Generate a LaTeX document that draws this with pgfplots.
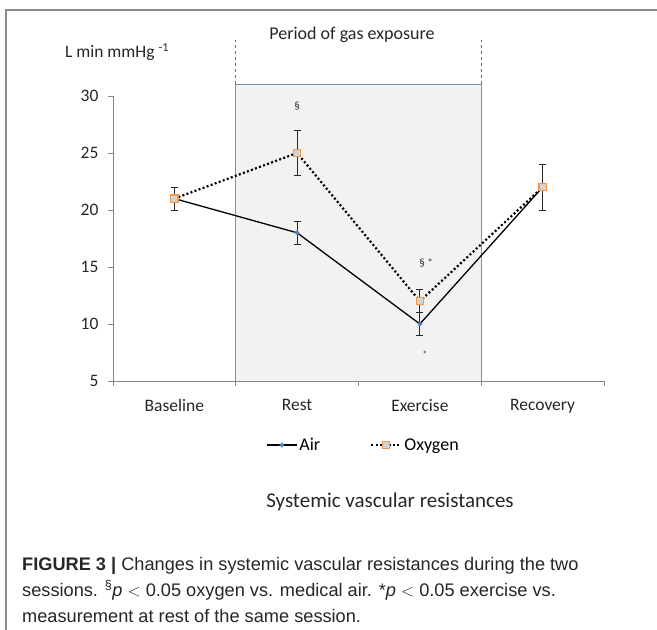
\documentclass[border=0pt]{standalone}
\usepackage{fontspec}
\setmainfont{Carlito}
\newfontfamily\capfont{Liberation Sans}
\usepackage{pgfplots}
\pgfplotsset{compat=1.18}
\definecolor{axgray}{HTML}{868686}
\definecolor{rectfill}{HTML}{F2F2F2}
\definecolor{rectedge}{HTML}{6E93C0}
\definecolor{orangemk}{HTML}{F79646}
\definecolor{grayfill}{HTML}{D4D4D4}
\definecolor{airblue}{HTML}{4F81BD}
\begin{document}
\begin{tikzpicture}[x=1pt,y=1pt]
\begin{axis}[
  name=ax,
  scale only axis, width=491pt, height=285pt,
  xmin=-0.5, xmax=3.5, ymin=5, ymax=30,
  clip=false, axis on top,
  axis x line*=bottom, axis y line*=left,
  axis line style={axgray, line width=0.8pt},
  ytick={5,10,...,30},
  xtick={0,1,2,3}, xticklabels={Baseline,Rest,Exercise,Recovery},
  minor xtick={-0.5,0.5,1.5,2.5,3.5},
  major x tick style={draw=none},
  minor x tick style={axgray, line width=0.8pt},
  y tick style={axgray, line width=0.8pt},
  tick align=outside, major tick length=5pt, minor tick length=5pt,
  /pgf/number format/assume math mode=true,
  tick label style={font=\fontsize{17.5}{20}\selectfont, text=black!85},
  xticklabel style={yshift=-10pt},
  yticklabel style={xshift=-6pt},
  legend style={draw=none, fill=none, at={(0.51,-0.2246)}, anchor=center,
    legend columns=2, font=\fontsize{18}{21}\selectfont,
    /tikz/every even column/.append style={column sep=48pt}},
  legend image code/.code={%
    \draw[mark repeat=2,mark phase=2,#1] plot coordinates {(0pt,0pt) (15pt,0pt) (30pt,0pt)};},
]
\fill[rectfill] (axis cs:0.5,5) rectangle (axis cs:2.5,31.05);
\draw[rectedge, line width=1pt] (axis cs:0.5,5) -- (axis cs:0.5,31.05) -- (axis cs:2.5,31.05) -- (axis cs:2.5,5);
\draw[black!60, dashed, line width=0.8pt] (axis cs:0.5,31.05) -- (axis cs:0.5,34.9);
\draw[black!60, dashed, line width=0.8pt] (axis cs:2.5,31.05) -- (axis cs:2.5,34.9);

\addplot[black, line width=1.3pt, mark=*, mark size=1.6pt,
  mark options={fill=airblue, draw=airblue},
  error bars/.cd, y dir=both, y explicit,
  error bar style={black!85, line width=0.9pt},
  error mark options={rotate=90, mark size=3.5pt, black!85, line width=0.9pt}]
  coordinates {(0,21) +- (0,1) (1,18) +- (0,1) (2,10) +- (0,1) (3,22) +- (0,2)};
\addlegendentry{Air}
\addplot[black, line width=2.2pt, dash pattern=on 2pt off 2.3pt, line cap=butt,
  mark=square*, mark size=3.6pt,
  mark options={solid, fill=grayfill, draw=orangemk, line width=1.1pt},
  error bars/.cd, y dir=both, y explicit,
  error bar style={black!85, solid, line width=0.9pt},
  error mark options={rotate=90, mark size=3.5pt, black!85, solid, line width=0.9pt}]
  coordinates {(0,21) +- (0,1) (1,25) +- (0,2) (2,12) +- (0,1) (3,22) +- (0,2)};
\addlegendentry{Oxygen}

\node[font=\fontsize{11}{12}\selectfont, text=black!85] at (axis cs:1,29.1) {\S};
\node[font=\fontsize{11}{12}\selectfont, text=black!85] at (axis cs:2.05,15.4) {\S\ *};
\node[font=\fontsize{9}{10}\selectfont, text=black!85] at (axis cs:2.04,7.3) {*};
\end{axis}
\begin{scope}[shift={(ax.south west)}, shift={(-113,381)}]
\draw[black!45, line width=1.2pt] (6,-630) -- (6,-10) -- (657,-10);
\node[font=\fontsize{18}{21}\selectfont, text=black!85] at (352,-35) {Period of gas exposure};
\node[font=\fontsize{17.5}{20}\selectfont, text=black!85] at (117,-52) {L min mmHg \textsuperscript{-1}};
\node[font=\fontsize{21}{25}\selectfont, text=black!85] at (390,-502) {Systemic vascular resistances};
\node[anchor=base west, font=\capfont\fontsize{18.2}{21}\selectfont, text=black!85, inner sep=0pt] at (22,-570)
  {\textbf{FIGURE 3 |} Changes in systemic vascular resistances during the two};
\node[anchor=base west, font=\capfont\fontsize{18.2}{21}\selectfont, text=black!85, inner sep=0pt] at (22,-596)
  {sessions. \textsuperscript{\S}\textit{p} $<$ 0.05 oxygen vs. medical air. *\textit{p} $<$ 0.05 exercise vs.};
\node[anchor=base west, font=\capfont\fontsize{18.2}{21}\selectfont, text=black!85, inner sep=0pt] at (22,-622)
  {measurement at rest of the same session.};
\pgfresetboundingbox
\useasboundingbox (0,0) rectangle (657,-630);
\end{scope}
\end{tikzpicture}
\end{document}
